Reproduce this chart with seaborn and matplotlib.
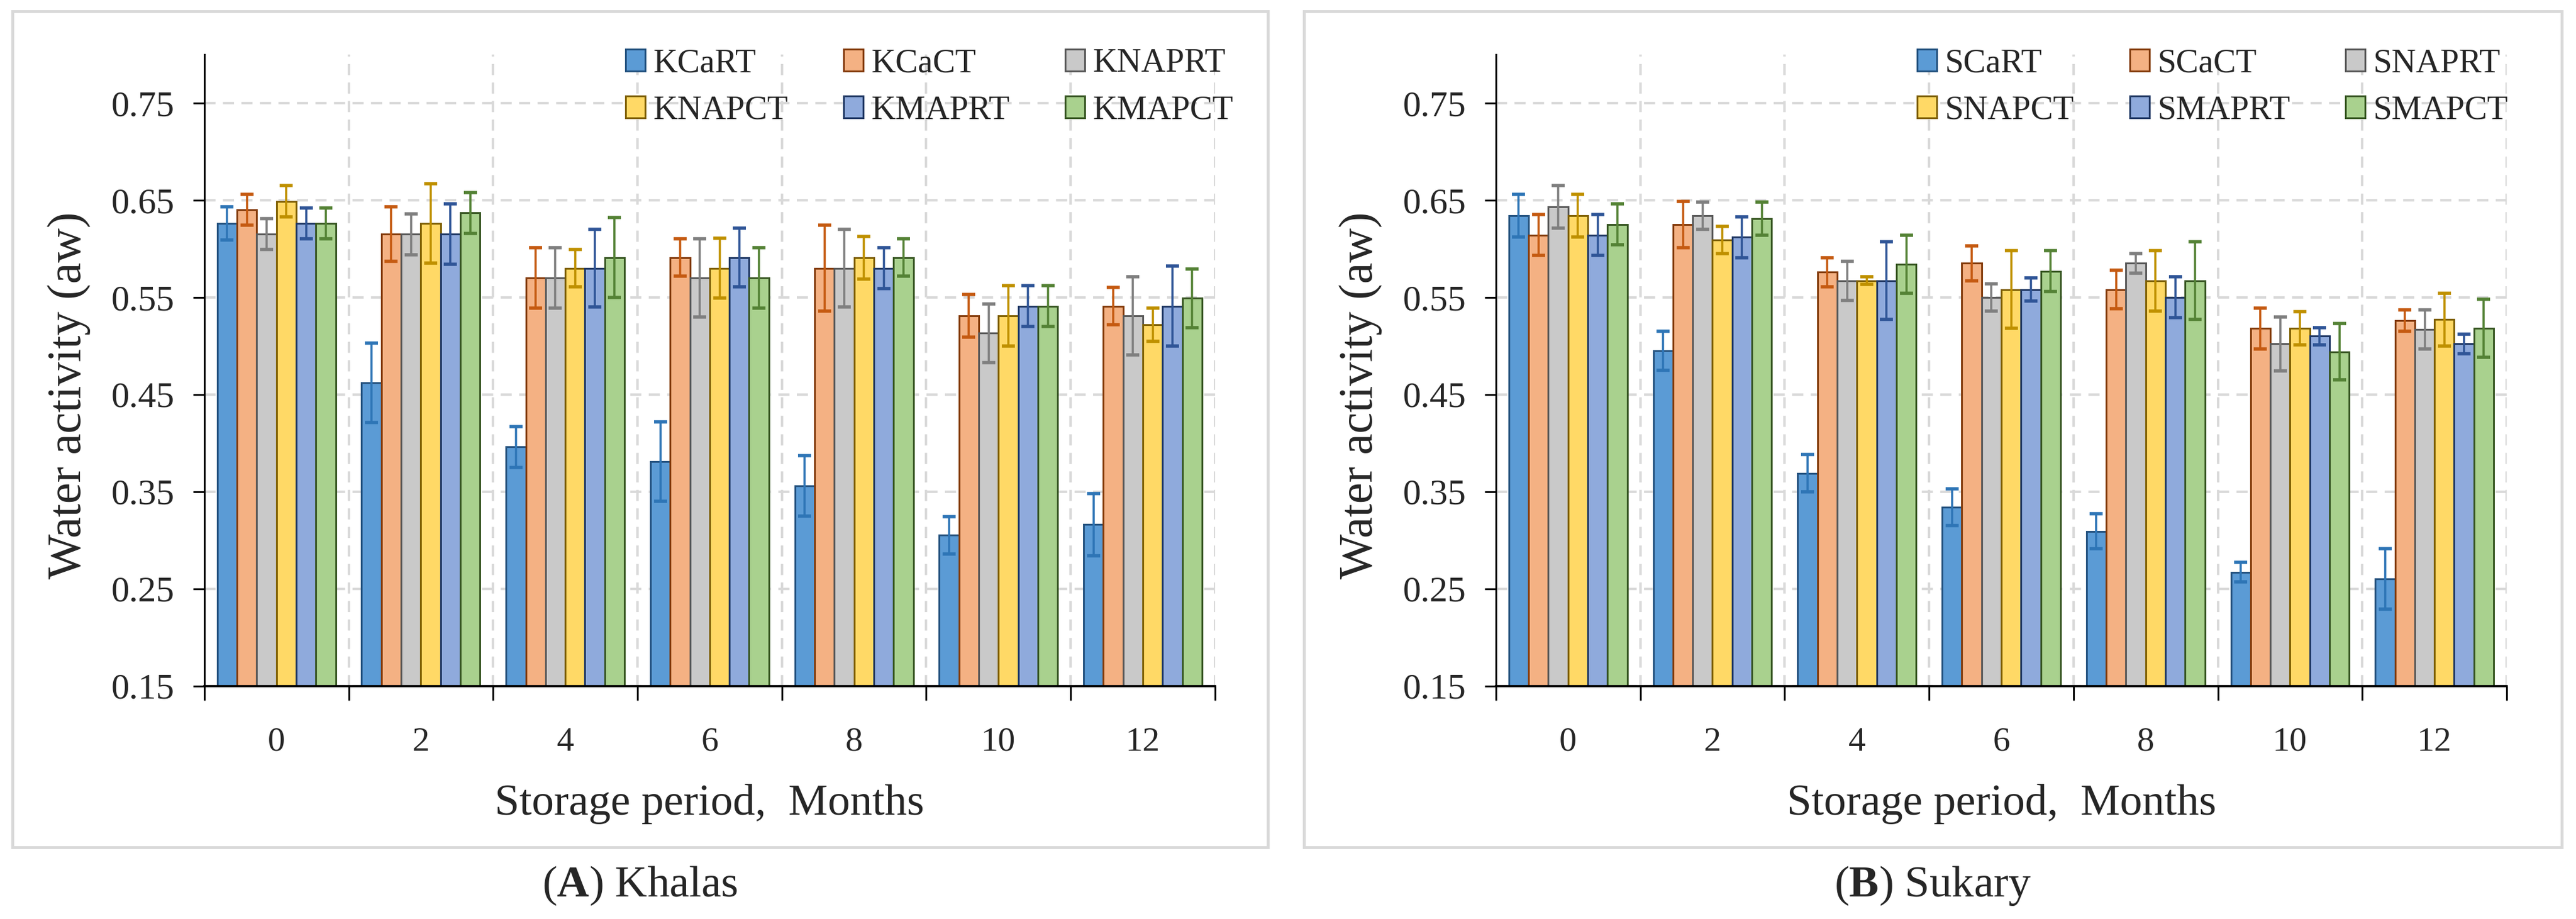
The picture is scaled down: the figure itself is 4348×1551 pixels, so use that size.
import numpy as np
import pandas as pd
import seaborn as sns
import matplotlib.pyplot as plt
from matplotlib.patches import Rectangle

# data (water activity, means and error bar half-lengths)
months = ['0', '2', '4', '6', '8', '10', '12']

khalas_labels = ['KCaRT', 'KCaCT', 'KNAPRT', 'KNAPCT', 'KMAPRT', 'KMAPCT']
khalas_means = [
    [0.626, 0.462, 0.396, 0.381, 0.356, 0.305, 0.316],
    [0.640, 0.615, 0.570, 0.591, 0.580, 0.531, 0.541],
    [0.615, 0.615, 0.570, 0.570, 0.580, 0.513, 0.531],
    [0.649, 0.626, 0.580, 0.580, 0.591, 0.531, 0.522],
    [0.626, 0.615, 0.580, 0.591, 0.580, 0.541, 0.541],
    [0.626, 0.637, 0.591, 0.570, 0.591, 0.541, 0.549],
]
khalas_err = [
    [0.017, 0.041, 0.021, 0.041, 0.031, 0.019, 0.032],
    [0.016, 0.028, 0.031, 0.019, 0.044, 0.022, 0.019],
    [0.016, 0.021, 0.031, 0.040, 0.040, 0.030, 0.040],
    [0.016, 0.041, 0.019, 0.031, 0.022, 0.031, 0.017],
    [0.016, 0.031, 0.040, 0.030, 0.021, 0.021, 0.041],
    [0.016, 0.021, 0.041, 0.031, 0.019, 0.021, 0.030],
]

sukary_labels = ['SCaRT', 'SCaCT', 'SNAPRT', 'SNAPCT', 'SMAPRT', 'SMAPCT']
sukary_means = [
    [0.634, 0.495, 0.369, 0.334, 0.309, 0.267, 0.260],
    [0.614, 0.625, 0.576, 0.585, 0.558, 0.518, 0.526],
    [0.643, 0.634, 0.567, 0.550, 0.585, 0.502, 0.517],
    [0.634, 0.609, 0.567, 0.558, 0.567, 0.518, 0.527],
    [0.614, 0.612, 0.567, 0.558, 0.550, 0.510, 0.502],
    [0.625, 0.631, 0.584, 0.577, 0.567, 0.494, 0.518],
]
sukary_err = [
    [0.022, 0.020, 0.019, 0.019, 0.018, 0.010, 0.031],
    [0.021, 0.024, 0.015, 0.018, 0.020, 0.021, 0.011],
    [0.022, 0.014, 0.020, 0.014, 0.010, 0.028, 0.020],
    [0.022, 0.014, 0.004, 0.040, 0.031, 0.017, 0.027],
    [0.021, 0.021, 0.040, 0.012, 0.021, 0.009, 0.010],
    [0.021, 0.017, 0.030, 0.021, 0.040, 0.029, 0.030],
]

y_ticks = [0.15, 0.25, 0.35, 0.45, 0.55, 0.65, 0.75]

fill_colors = ['#5B9BD5', '#F4B183', '#C9C9C9', '#FFD966', '#8FAADC', '#A9D18E']
edge_colors = ['#24527F', '#843C0C', '#595959', '#7F6000', '#203864', '#385723']
err_colors = ['#2E75B6', '#C55A11', '#7F7F7F', '#BF9000', '#2F5597', '#548235']

sns.set_style('white')
plt.rcParams['font.family'] = ['Liberation Serif', 'DejaVu Serif']
plt.rcParams['mathtext.fontset'] = 'custom'
plt.rcParams['mathtext.rm'] = 'Liberation Serif'
plt.rcParams['mathtext.bf'] = 'Liberation Serif:bold'

GRID = '#D9D9D9'


def to_long(labels, means, errs):
    rows = []
    for lab, m_row, e_row in zip(labels, means, errs):
        for mo, m, e in zip(months, m_row, e_row):
            rows.append({'month': mo, 'treatment': lab, 'aw': m, 'err': e})
    return pd.DataFrame(rows)


def draw_panel(ax, labels, means, errs):
    df = to_long(labels, means, errs)
    sns.barplot(data=df, x='month', y='aw', hue='treatment', order=months,
                hue_order=labels, palette=fill_colors, width=0.82,
                saturation=1, errorbar=None, legend=False, ax=ax, zorder=2)

    bars = list(ax.containers)
    for i, cont in enumerate(bars):
        sub = df[df['treatment'] == labels[i]].set_index('month').loc[months]
        xs = []
        for p in cont.patches:
            p.set_edgecolor(edge_colors[i])
            p.set_linewidth(2.2)
            xs.append(p.get_x() + p.get_width() / 2)
        ax.errorbar(xs, sub['aw'].values, yerr=sub['err'].values, fmt='none',
                    ecolor=err_colors[i], elinewidth=2.6, capsize=8,
                    capthick=4, zorder=3)

    ax.set_ylim(0.15, 0.80)
    ax.set_xlim(-0.5, 6.5)
    ax.set_yticks(y_ticks)
    ax.set_yticklabels([f'{v:.2f}' for v in y_ticks])
    ax.set_xticks(range(len(months)))
    ax.set_xticklabels(months)
    ax.set_xticks(np.arange(-0.5, 7.0, 1.0), minor=True)

    ax.tick_params(axis='x', which='major', length=0, pad=50, labelsize=42)
    ax.tick_params(axis='x', which='minor', length=17, width=2.2,
                   direction='out', color='black')
    ax.tick_params(axis='y', which='major', length=14, width=2.2,
                   direction='out', color='black', pad=22, labelsize=44)
    ax.tick_params(which='both', bottom=True, left=True)

    ax.set_axisbelow(True)
    ax.grid(False)
    ax.grid(which='major', axis='y', color=GRID, lw=3, ls=(0, (4.5, 3)))
    ax.grid(which='minor', axis='x', color=GRID, lw=3, ls=(0, (4.5, 3)))

    for side in ['top', 'right']:
        ax.spines[side].set_visible(False)
    ax.spines['left'].set_color('black')
    ax.spines['left'].set_linewidth(2.2)
    ax.spines['bottom'].set_color('black')
    ax.spines['bottom'].set_linewidth(2.6)
    ax.spines['left'].set_zorder(4)
    ax.spines['bottom'].set_zorder(4)

    ax.set_ylabel('Water activity (aw)', fontsize=58)
    ax.yaxis.set_label_coords(-0.112, 0.46)
    ax.set_xlabel('Storage period,  Months', fontsize=54)
    ax.xaxis.set_label_coords(0.5, -0.155)

    # legend fills row by row in the reference: reorder for column-major layout
    order = [0, 3, 1, 4, 2, 5]
    ax.legend([bars[k] for k in order], [labels[k] for k in order],
              loc='upper left', bbox_to_anchor=(0.417, 1.010),
              ncol=3, frameon=False, fontsize=41, borderpad=0,
              borderaxespad=0, handlelength=0.58, handleheight=0.63,
              handletextpad=0.23, columnspacing=1.65, labelspacing=0.48)


fig = plt.figure(figsize=(43.48, 15.51), dpi=100)
ax_a = fig.add_axes([0.0793, 0.2537, 0.3924, 0.6870])
ax_b = fig.add_axes([0.5807, 0.2537, 0.3924, 0.6870])

draw_panel(ax_a, khalas_labels, khalas_means, khalas_err)
draw_panel(ax_b, sukary_labels, sukary_means, sukary_err)

# panel frames
for x0, x1 in [(0.0048, 0.4922), (0.5062, 0.9945)]:
    fig.patches.append(Rectangle((x0, 0.078), x1 - x0, 0.9097,
                                 transform=fig.transFigure, fill=False,
                                 edgecolor=GRID, lw=3.5))

fig.text(0.2484, 0.036, r'($\mathbf{A}$) Khalas', fontsize=54,
         ha='center', va='center')
fig.text(0.7503, 0.036, r'($\mathbf{B}$) Sukary', fontsize=54,
         ha='center', va='center')

fig.savefig('out.png', dpi=100, facecolor='white')
